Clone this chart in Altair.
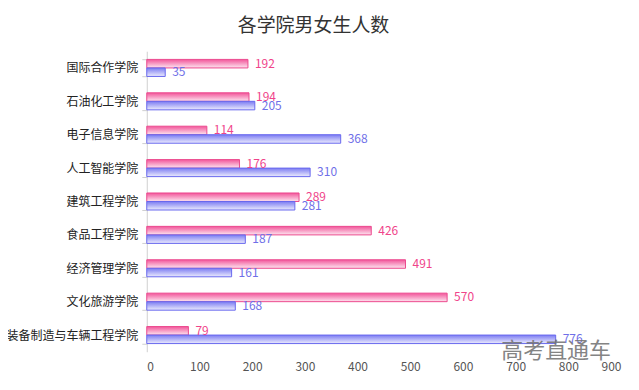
import altair as alt
import pandas as pd

colleges = ["国际合作学院", "石油化工学院", "电子信息学院", "人工智能学院", "建筑工程学院",
            "食品工程学院", "经济管理学院", "文化旅游学院", "装备制造与车辆工程学院"]
female = [192, 194, 114, 176, 289, 426, 491, 570, 79]
male = [35, 205, 368, 310, 281, 187, 161, 168, 776]
x_ticks = [0, 100, 200, 300, 400, 500, 600, 700, 800, 900]

rows = []
for c, f, m in zip(colleges, female, male):
    rows.append({"college": c, "sex": "女", "count": f})
    rows.append({"college": c, "sex": "男", "count": m})
df = pd.DataFrame(rows)

FONT = "Noto Sans CJK SC"

pink_grad = alt.Gradient(gradient="linear", x1=0, x2=0, y1=0, y2=1,
                         stops=[alt.GradientStop(color="#f2559a", offset=0),
                                alt.GradientStop(color="#fde6f0", offset=1)])
blue_grad = alt.Gradient(gradient="linear", x1=0, x2=0, y1=0, y2=1,
                         stops=[alt.GradientStop(color="#7b7bf2", offset=0),
                                alt.GradientStop(color="#ececfd", offset=1)])

y_enc = alt.Y("college:N", sort=colleges,
              scale=alt.Scale(paddingInner=0.49, paddingOuter=0.245),
              axis=alt.Axis(title=None, domainColor="#d0d0d0", tickColor="#d0d0d0",
                            tickSize=5, tickBand="extent", labelPadding=4,
                            labelFontSize=12, labelColor="#222222", labelFont=FONT))
x_enc = alt.X("count:Q", scale=alt.Scale(domain=[0, 900], nice=False),
              axis=alt.Axis(values=x_ticks, title=None, grid=False, domain=False,
                            ticks=False, labelPadding=10, labelFontSize=12,
                            labelColor="#555555", labelFont=FONT))
yoff = alt.YOffset("sex:N", scale=alt.Scale(domain=["女", "男"], paddingInner=0, paddingOuter=0))

base = alt.Chart(df).encode(y=y_enc, x=x_enc, yOffset=yoff)

bars_f = base.transform_filter(alt.datum.sex == "女").mark_bar(
    fill=pink_grad, stroke="#ec4a8f", strokeWidth=1)
bars_m = base.transform_filter(alt.datum.sex == "男").mark_bar(
    fill=blue_grad, stroke="#6868ee", strokeWidth=1)

labels = base.mark_text(align="left", baseline="middle", dx=7, fontSize=12, font=FONT).encode(
    text="count:Q",
    color=alt.Color("sex:N", scale=alt.Scale(domain=["女", "男"], range=["#f0448a", "#6f6fe8"]),
                    legend=None),
)

watermark = alt.Chart(pd.DataFrame({"t": ["高考直通车"]})).mark_text(
    align="center", baseline="middle", fontSize=22, font=FONT, color="#6f6f6f", opacity=0.85
).encode(text="t:N", x=alt.value(410), y=alt.value(300))

chart = alt.layer(bars_f, bars_m, labels, watermark).properties(
    width=475, height=301,
    padding={"left": 139, "top": 43, "right": 10, "bottom": 30},
    autosize=alt.AutoSizeParams(type="none"),
    view=alt.ViewBackground(stroke="transparent", strokeWidth=0),
    title=alt.TitleParams("各学院男女生人数", fontSize=19, font=FONT, fontWeight="normal",
                          color="#333333", anchor="middle", frame="bounds", offset=9),
).configure_view(strokeWidth=0, stroke="transparent").configure_axis(
    gridOpacity=0
).configure(background="white")

chart.save("out.html", embed_options={"renderer": "svg", "actions": False})
